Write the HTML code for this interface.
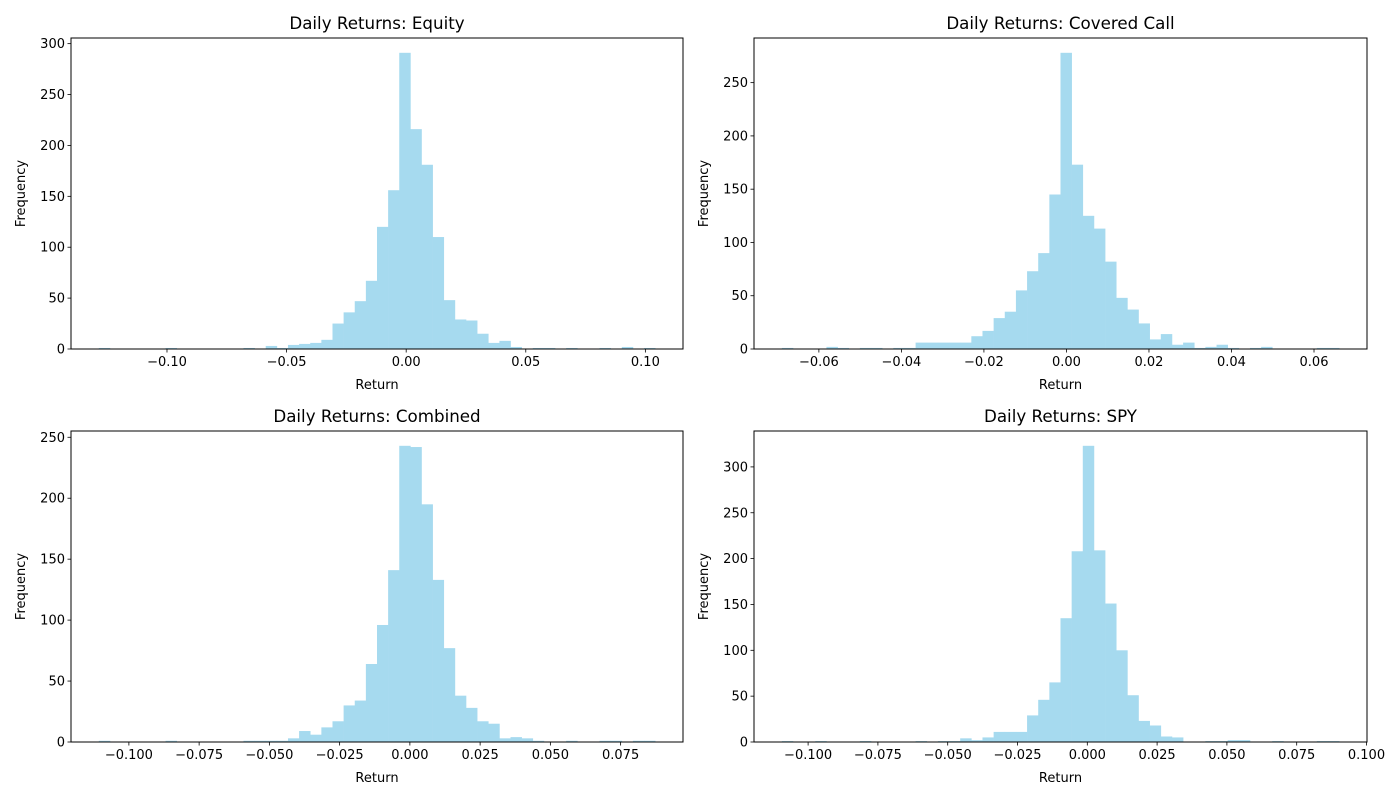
<!DOCTYPE html>
<html><head><meta charset="utf-8"><style>
body{margin:0;background:#fff;}
svg text{font-family:"DejaVu Sans","Liberation Sans",sans-serif;fill:#000;}
</style></head><body>
<svg id="fig" width="1400" height="800" xmlns="http://www.w3.org/2000/svg"></svg>
<script>
const titles = ["Daily Returns: Equity","Daily Returns: Covered Call","Daily Returns: Combined","Daily Returns: SPY"];
const binMins = [-0.1285,-0.06897,-0.1107,-0.1094];
const binRanges = [0.2326,0.13506,0.198,0.1996];
const countsEquity = [1,0,0,0,0,0,1,0,0,0,0,0,0,1,0,3,1,4,5,6,9,25,36,47,67,120,156,291,216,181,110,48,29,28,15,6,8,2,0,1,1,0,1,0,0,1,0,2,0,1];
const countsCovered = [1,0,0,0,2,1,0,1,1,0,1,1,6,6,6,6,6,12,17,29,35,55,73,90,145,278,173,125,113,82,48,37,24,9,14,4,6,1,2,4,1,0,1,2,0,0,0,0,1,1];
const countsCombined = [1,0,0,0,0,0,1,0,0,0,0,0,0,1,1,1,1,3,9,6,12,17,30,34,64,96,141,243,242,195,133,77,38,28,17,15,3,4,3,1,0,0,1,0,0,1,1,0,1,1];
const countsSpy = [1,0,0,1,0,0,0,1,0,0,0,0,1,0,1,1,4,2,5,11,11,11,29,46,65,135,208,323,209,151,100,51,23,18,6,5,0,0,1,1,2,2,0,0,1,0,0,0,1,1];
const xTicks = [[-0.10,-0.05,0,0.05,0.10],[-0.06,-0.04,-0.02,0,0.02,0.04,0.06],[-0.100,-0.075,-0.050,-0.025,0,0.025,0.050,0.075],[-0.100,-0.075,-0.050,-0.025,0,0.025,0.050,0.075,0.100]];
const xDecimals = [2,2,3,3];
const yTicks = [[0,50,100,150,200,250,300],[0,50,100,150,200,250],[0,50,100,150,200,250],[0,50,100,150,200,250,300]];
const allCounts = [countsEquity,countsCovered,countsCombined,countsSpy];
const boxes = [[71,38,683,349],[754,38,1367,349],[71,431,683,742],[754,431,1367,742]];
const NS="http://www.w3.org/2000/svg";
const fig=document.getElementById('fig');
function mk(tag,attrs,parent){const e=document.createElementNS(NS,tag);for(const k in attrs)e.setAttribute(k,attrs[k]);(parent||fig).appendChild(e);return e;}
function fmt(v,d){const s=Math.abs(v).toFixed(d);return v<-1e-12?"\u2212"+s:s;}
for(let p=0;p<4;p++){
  const [L,T,R,B]=boxes[p];
  const counts=allCounts[p];
  const n=counts.length, mn=binMins[p], rg=binRanges[p], w=rg/n;
  const x0=mn-rg*0.05, x1=mn+rg*1.05;
  const ymax=Math.max(...counts)*1.05;
  const sx=v=>L+(v-x0)/(x1-x0)*(R-L);
  const sy=v=>B-v/ymax*(B-T);
  const g=mk('g',{});
  
  
  for(let i=0;i<n;i++){
    if(counts[i]<=0)continue;
    const xa=sx(mn+i*w), xb=sx(mn+(i+1)*w);
    const r=mk('rect',{x:xa,y:sy(counts[i]),width:xb-xa+0.3,height:B-sy(counts[i]),fill:'#a6daef'},g);
    
    
  }
  const fr=mk('rect',{x:L,y:T,width:R-L,height:B-T,fill:'none',stroke:'#000','stroke-width':1},g);
  
  
  for(const t of xTicks[p]){
    const x=sx(t);
    mk('line',{x1:x,x2:x,y1:B,y2:B+3.5,stroke:'#000','stroke-width':0.8},g);
    const tx=mk('text',{x:x,y:B+17,'text-anchor':'middle','font-size':'13'},g);
    tx.textContent=fmt(t,xDecimals[p]);
    
    
  }
  for(const t of yTicks[p]){
    const y=sy(t);
    mk('line',{x1:L-3.5,x2:L,y1:y,y2:y,stroke:'#000','stroke-width':0.8},g);
    const ty=mk('text',{x:L-6,y:y+4.5,'text-anchor':'end','font-size':'13'},g);
    ty.textContent=String(t);
    
    
  }
  const ti=mk('text',{x:(L+R)/2,y:T-9,'text-anchor':'middle','font-size':'16.7'},g);
  ti.textContent=titles[p];
  
  
  const xl=mk('text',{x:(L+R)/2,y:B+40,'text-anchor':'middle','font-size':'13'},g);
  xl.textContent='Return';
  
  
  const yx=L-46, yy=(T+B)/2;
  const yl=mk('text',{x:yx,y:yy,'text-anchor':'middle','font-size':'13',transform:`rotate(-90 ${yx} ${yy})`},g);
  yl.textContent='Frequency';
  
  
}
</script>
</body></html>
